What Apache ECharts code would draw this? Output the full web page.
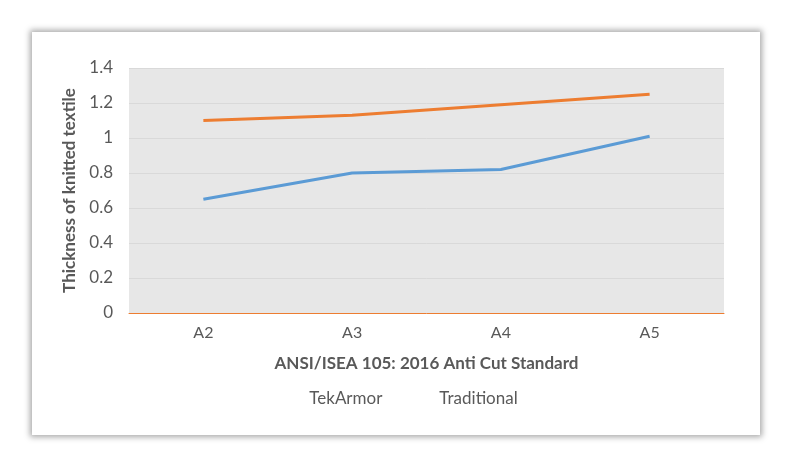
<!DOCTYPE html>
<html>
<head>
<meta charset="utf8">
<script src="https://cdn.jsdelivr.net/npm/echarts@6/dist/echarts.min.js"></script>
<style>
body{margin:0;background:#fff;}
#card{position:absolute;left:32px;top:32px;width:728px;height:403px;background:#fff;box-shadow:0 0 6px 2px rgba(0,0,0,0.35);}
#main{position:absolute;left:0;top:0;width:792px;height:468px;}
</style>
</head>
<body>
<div id="card"></div>
<div id="main"></div>
<script>
var categories = ['A2', 'A3', 'A4', 'A5'];
var tekArmor = [0.65, 0.8, 0.82, 1.01];
var traditional = [1.1, 1.13, 1.19, 1.25];
var font = 'Lato';
var chart = echarts.init(document.getElementById('main'));
function lineSeries(name, data, color) {
    return {
        name: name, type: 'line', data: data, color: color,
        symbol: 'circle', symbolSize: 1, showSymbol: true, itemStyle: { opacity: 0 },
        lineStyle: { width: 3 },
        label: { show: true, position: 'top', distance: 14, fontSize: 18, color: '#404040' }
    };
}
chart.setOption({
    animation: false,
    textStyle: { fontFamily: font },
    grid: { left: 129, right: 68, top: 68, bottom: 155, show: true, backgroundColor: '#e7e7e7', borderWidth: 0 },
    legend: {
        bottom: 56, itemWidth: 30, itemGap: 22, icon: 'rect', itemHeight: 3,
        textStyle: { fontSize: 17, color: '#595959', fontFamily: font },
        data: ['TekArmor', 'Traditional']
    },
    xAxis: {
        type: 'category', data: categories,
        name: 'ANSI/ISEA 105: 2016 Anti Cut Standard', nameLocation: 'middle', nameGap: 42,
        nameTextStyle: { fontSize: 17, fontWeight: 'bold', color: '#595959' },
        axisLine: { lineStyle: { color: '#ed7d31' } }, axisTick: { show: false },
        axisLabel: { fontSize: 16, color: '#595959', margin: 12 }
    },
    yAxis: {
        type: 'value', min: 0, max: 1.4, interval: 0.2,
        name: 'Thickness of knitted textile', nameLocation: 'middle', nameGap: 48,
        nameTextStyle: { fontSize: 17, fontWeight: 'bold', color: '#595959' },
        axisLabel: { fontSize: 17, color: '#595959', margin: 16, formatter: function (v) { return +v.toFixed(1); } },
        splitLine: { lineStyle: { color: '#d9d9d9' } }
    },
    series: [
        lineSeries('TekArmor', tekArmor, '#5b9bd5'),
        lineSeries('Traditional', traditional, '#ed7d31')
    ]
});
</script>
</body>
</html>
